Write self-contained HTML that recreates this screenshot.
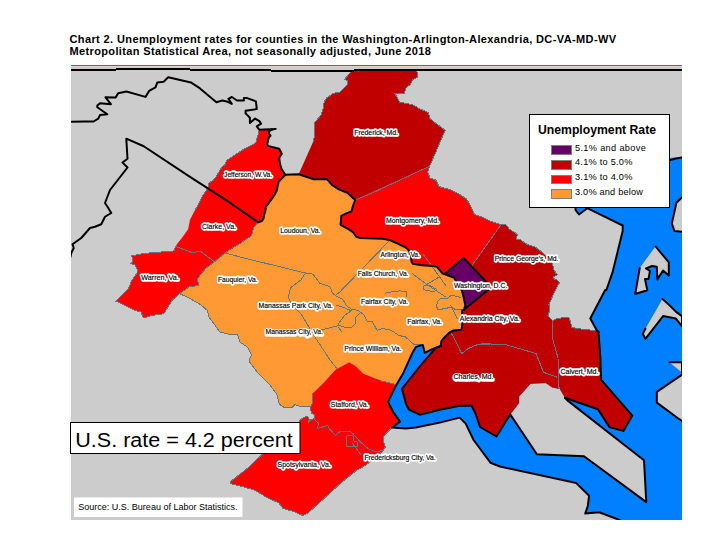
<!DOCTYPE html>
<html><head><meta charset="utf-8">
<style>
html,body{margin:0;padding:0;background:#fff;width:715px;height:552px;overflow:hidden;}
body{position:relative;font-family:"Liberation Sans",sans-serif;}
.t{position:absolute;left:69.5px;font-weight:bold;font-size:11px;letter-spacing:0.385px;white-space:nowrap;color:#000;line-height:12px;}
svg{position:absolute;left:0;top:0;}
.lb{font-family:"Liberation Sans",sans-serif;font-size:7px;fill:#fff;stroke:#fff;stroke-width:3.3px;stroke-linejoin:round;transform:translate(0.2px,0.15px);}
.lf{font-family:"Liberation Sans",sans-serif;font-size:7px;fill:#000;stroke:#000;stroke-width:0.15px;}
.bl{fill:none;stroke:#000;stroke-width:2;stroke-linejoin:round;stroke-linecap:round;}
.th{fill:none;stroke:#5e7886;stroke-width:1;stroke-linejoin:round;shape-rendering:crispEdges;}
</style></head>
<body>
<div class="t" style="top:33px">Chart 2. Unemployment rates for counties in the Washington-Arlington-Alexandria, DC-VA-MD-WV</div>
<div class="t" style="top:45px;letter-spacing:0.36px">Metropolitan Statistical Area, not seasonally adjusted, June 2018</div>
<svg width="715" height="552" viewBox="0 0 715 552">
<defs><clipPath id="mc"><rect x="71" y="66" width="611" height="454"/></clipPath></defs>
<rect x="71" y="65" width="611" height="1" fill="#0a7cff"/>
<rect x="71" y="66" width="611" height="1" fill="#dcd4cc"/>
<rect x="71" y="67" width="611" height="453" fill="#cccccc"/>
<g clip-path="url(#mc)">
<polygon points="575.5,207 669,207 669,158 682,157 682,520 619.6,520 599.2,512.3 585.2,513.6 587.8,506 589.1,495.8 576.3,483.1 500,466.5 490.6,462.8 473.6,440 465.7,423.6 459.7,417.6 439.8,422.6 415.9,427.6 405.9,428.6 392,427.6 399.9,421.6 393,411.7 388,401.7 395.9,385.8 402.9,373.8 412.9,351.9 415.9,346.9 440,335 470,330 552.6,320.8 554.5,319.4 558.1,318.5 565.3,317.1 568.9,317.6 570.8,322.6 571.7,327.1 575.3,328 580,328.9 597,330.8 590.3,318.5 605.2,290 606.4,290 612.7,271.8 622.7,231 622.7,225.5 587.3,208.2 579,214.5 575.5,210 575.5,207" fill="#0080ff"/>
<polygon points="682,197.3 676.4,202.7 673.6,215.5 671.8,223.6 674.5,231 682,231.8" fill="#cccccc"/>
<polygon points="655.5,246.4 668.8,262.3 668.8,275.6 663.1,270.5 657.4,279.4 656.8,266.7 652,266 646,268.5 650,271 648.5,279 645,279 647.3,290.2 635.2,294 639.7,268" fill="#cccccc"/>
<polygon points="662.5,299 668.2,304 675.8,311.6 682,316.1 682,326.2 675.8,318.6 669.5,317.3 663.1,316.1 645.4,338.9 642.8,333.8 645.4,328.7" fill="#cccccc"/>
<polygon points="669.5,362.2 682,362.2 682,372.5" fill="#cccccc"/>
<polygon points="682,374.7 656.8,391.8 656.8,402.6 678.3,418.5 682,421" fill="#cccccc"/>
<polygon points="510.2,414.4 536.9,454.3 584,456.3 646.3,502.1 644,460.2 567.4,400.4 564.9,397.8 559.8,388.9 552.2,387.6 545.8,383 530.5,383.8 519.1,396.5 519.1,402.9 510.2,414.4" fill="#cccccc"/>
<polygon points="501,224.7 505.1,223.9 507.7,226.4 509,229 515.3,232.8 517.2,234.7 516.6,239.1 520.4,239.7 525.4,243.5 529.9,245.4 535.6,247.3 540,250.5 543.8,253.7 548.3,258.1 550.8,260.7 552.7,263.8 553.3,268.3 555.9,273.3 557.8,274.6 553.3,277.1 554.6,279.7 557.2,280 559.4,282.7 554.5,291.8 549,304.5 549.9,310.8 547.7,315.3 552.6,320.8 554.5,319.4 558.1,318.5 565.3,317.1 568.9,317.6 570.8,322.6 571.7,327.1 575.3,328 580,328.9 597,330.8 598.5,331.5 600.5,360 601,379.7 632.3,415.6 623.4,430.9 609.4,427.1 598,409.3 564.9,397.8 559.8,388.9 552.2,387.6 545.8,383 530.5,383.8 519.1,396.5 519.1,402.9 510.2,414.4 496.5,436.5 480,427 475.6,413.7 471.6,405.7 459.7,405.7 439.8,409.7 419.8,414.7 408.9,409.7 405.9,403.7 401.9,388.8 421.8,363.9 435.8,347.9 440.8,345.9 441.3,341.4 443.5,338.5 449.3,332.7 453.6,330.5 461.6,329.8 462.3,324 461.6,316.7 462.3,310.5 464,309.8 491.5,287.3 472,265.5" fill="#c00000"/>
<polygon points="298.7,174.3 313.1,141.8 314.1,138 314.7,122.5 321.1,114.9 323,108.6 324.2,101.6 326.8,97.8 333.1,93.4 340.1,92.1 347.7,84.5 347.7,80.7 344.5,79.4 347.7,75.6 350.9,71.8 351.5,70.5 416.8,70.5 418,76.9 413,79.4 410.4,84.5 406,87.7 404.1,93.4 394.6,93.4 397.8,98.4 399.7,102.2 413,104.8 419.3,108.6 428.2,112.4 430.1,118.7 438.3,125.1 445.3,130.4 442.6,136.2 434.5,155.2 429.5,166.3 355.2,200.1 347.3,192.7 338.9,189.4 332.2,185.2 327.2,179.3 313.8,179.3 298.7,174.3" fill="#c00000"/>
<polygon points="355.2,200.1 429.5,166.3 427.7,171.9 429.9,178 436.3,180.3 438.9,186.6 449,189.2 459.2,194.2 466.8,199.3 471.8,208.2 474.4,214.5 482,217 489.6,220.9 501,224.7 472,265.5 463.6,258 444.5,274 442.6,273.6 440,270.4 437,266.8 433.1,266 421.7,265.3 413,263.8 411.6,262 411,255.8 409.1,250.8 405.9,247.6 398.3,243.8 389.4,240 383.1,238.7 360.3,238.1 356.5,236.8 352.7,231.8 347.6,228.6 340.6,224.8 341.3,215.9 346.3,213.4 351.4,211.5 353.3,205.1 355.2,200.1" fill="#ff0000"/>
<polygon points="259.4,129.8 275.7,128.9 269.7,130.6 268.8,133.2 270.6,135.8 268.8,137.5 267.1,144.4 268.8,146.1 279.2,148.7 281.8,153.8 279.2,158.1 280,164.2 281.8,169.3 285.2,174.8 278.5,181.8 276.8,190.2 274.4,195 272.6,197.7 269.9,201.3 268,204.1 265.8,206.8 265.3,211.3 264,214.9 263.5,218.5 262.2,220.8 258.3,222.3 254.5,226.3 253.1,229.4 252.2,234 250.4,236.7 245.9,239.4 240.9,243 235,246.5 229.1,250.1 225,253 214.5,261.8 205.6,268.5 200.6,274.4 197.2,279.4 198.9,285.3 188.9,287 179.6,293.7 172.1,300.4 163.7,313.8 151.9,315.5 143.6,318 141,312.1 135.2,310.5 123.4,304.6 115.9,301.2 128.5,288.7 131.8,280.3 136.8,273.6 137.7,270.2 135.2,265.2 131,263.5 132.7,261.8 131.8,255.9 143.6,253.4 165.4,251.7 173.8,250.9 175.9,246.4 176.5,244.7 182.6,236.9 188.2,229.1 189.9,220.1 195,210 197.6,205.9 202.7,195.8 207.8,188.2 209,183.1 212.8,180.6 216,176.8 219.2,171.7 221.7,167.3 224.9,164.7 226.8,160.3 234.4,155.2 243.3,149.5 252.1,145.1 255.9,142.5 259.4,129.8" fill="#ff0000"/>
<polygon points="285.2,174.8 298.7,174.3 313.8,179.3 327.2,179.3 332.2,185.2 338.9,189.4 347.3,192.7 355.2,200.1 353.3,205.1 351.4,211.5 346.3,213.4 341.3,215.9 340.6,224.8 347.6,228.6 352.7,231.8 356.5,236.8 360.3,238.1 383.1,238.7 389.4,240 398.3,243.8 405.9,247.6 409.1,250.8 411,255.8 411.6,262 413,263.8 421.7,265.3 433.1,266 437,266.8 440,270.4 442.6,273.6 444.5,274 454.1,277.7 456.5,281.8 461.8,290.1 463.6,297.1 465.3,305.4 464,309.8 462.3,310.5 461.6,316.7 462.3,324 461.6,329.8 453.6,330.5 449.3,332.7 443.5,338.5 441.3,341.4 440.8,345.9 432.8,348.9 424.8,352.9 422.8,344.9 415.9,346.9 412.9,351.9 402.9,373.8 395.9,385.8 394,383.8 383,381 375.5,378.5 363,373.5 355.5,366 349.25,362.25 335.5,369.75 323,383.5 313.1,393.1 312.2,395 312.2,403.9 310.3,407 299.6,406.4 295.1,404.5 292,407.4 285,408 279.3,404.2 276.8,394.1 269.2,384 256.5,371.3 248.9,361.1 251.4,354.8 247.6,347.2 240,342.1 237.5,334.5 229.9,334.5 219.7,332 214,323.9 209,317.2 207.3,310.5 200.6,304.6 188.9,297.9 179.6,293.7 188.9,287 198.9,285.3 197.2,279.4 200.6,274.4 205.6,268.5 214.5,261.8 225,253 229.1,250.1 235,246.5 240.9,243 245.9,239.4 250.4,236.7 252.2,234 253.1,229.4 254.5,226.3 258.3,222.3 262.2,220.8 263.5,218.5 264,214.9 265.3,211.3 265.8,206.8 268,204.1 269.9,201.3 272.6,197.7 274.4,195 276.8,190.2 278.5,181.8 285.2,174.8" fill="#ff9933"/>
<polygon points="313.1,393.1 323,383.5 335.5,369.75 349.25,362.25 355.5,366 363,373.5 375.5,378.5 383,381 394,383.8 395.9,385.8 388,401.7 393,411.7 399.9,421.6 392,427.6 388.5,430.8 383.8,436.2 383.1,440.8 385.4,446.9 382.3,451.5 373.1,459.2 365.4,465.4 355.9,470.8 341.9,482 322.3,500.1 308.3,512.7 302.7,515.5 293,511.3 283.1,508.5 279,503 266.4,497.3 255.2,490.3 241.2,486.2 230,483.4 230,482 249.6,466.6 258,458.2 299.3,422.2 299.6,420.3 304,417.5 306.5,416.5 308.8,417.2 309.1,420.3 308.4,422.2 310.3,420 312.9,419.1 314.2,418.4 314.2,414.6 311.6,413.4 310.7,410.2 311,406.4 312.2,403.9 312.2,395" fill="#ff0000"/>
<polygon points="463.6,258 491.5,287.3 464,309.8 465.3,305.4 463.6,297.1 461.8,290.1 456.5,281.8 454.1,277.7 444.5,274" fill="#660066"/>
<polyline class="th" points="176.3,246.7 192.2,252.6 200.6,251.4 214.5,261.8"/>
<polyline class="th" points="225,253 248,259 305.5,273 313,274.25 320,283.4 330,286.7 332.6,293.4 336,296 342.6,299.3 346.8,306 351.9,309.4 357.8,310.2 363.6,314.4 367,321.1 372,321.1 377,330.3 382.1,328.7 388.8,329.5 393.8,332 398.9,335.4 405.6,337 414,344.6 422.8,344.9"/>
<polyline class="th" points="305.5,273 300.9,280 290.7,287.6 288.2,297.7 291,303 302.1,315.5 315.5,338 320,344.6 330,360 336.75,368.5"/>
<polyline class="th" points="389.4,240.6 340,291.8 336,295.1"/>
<polyline class="th" points="355.2,200.1 367.9,195 429.5,166.3"/>
<polyline class="th" points="501,224.7 472,265.5"/>
<polyline class="th" points="423,254 431,265 445.8,285.6"/>
<polyline class="th" points="412.2,273.6 426.8,284.4 445.8,297"/>
<polyline class="th" points="426.8,284.4 439.4,276.8"/>
<polyline class="th" points="384.6,293.4 392.1,291.7 400.5,290.9 406.4,291.7 406.4,296.8"/>
<polyline class="th" points="446.8,298.6 451.7,295.3 461.5,297.5"/>
<polyline class="th" points="446.8,298.6 440.9,298 437.6,301.3 436.5,305.7 437.6,309.5 440,309.5 448.5,307.8 451.7,306.7 455,309.5 461.5,310"/>
<polyline class="th" points="450.7,305.1 457.2,318.7"/>
<polyline class="th" points="427.3,285 423.5,286.1 424,289.9 430,291 434.9,291.5 436.5,289.3 431.1,286.1 427.3,285"/>
<polyline class="th" points="451.4,333.4 455,340 461.6,353.7 468.1,348.6 478.3,344.3 490,344.3"/>
<polyline class="th" points="481,343.5 506,344.75 536,353.5 543.5,372.25 557.25,377.25"/>
<polyline class="th" points="552.6,320.8 552.2,330 553,340 558,358 558.5,386.5 559.8,388.9"/>
<polyline class="th" points="313.1,418.5 318.5,423 317.7,428.5 327.7,425.4 329.2,428.5 335.4,435.4 340,431.5 350,431.5 353.1,433.8 360.8,442.3 366.9,447.7 370.8,450 376.2,451.5 382.3,450.8"/>
<polyline class="th" points="346.6,435.8 353,436 353.8,441 357,442 357.7,446.2 346.9,446.2 346.6,435.8"/>
<polyline class="th" points="352,443 361.5,455.4"/>
<polyline class="th" points="336,305.2 345,308 351.9,311"/>
<polyline class="th" points="351,311 345,315 341,320 338,325 344,327 352,327 355,324 355,318 360,313"/>
<polyline class="th" points="320,330.3 340.1,325.3"/>
<polyline class="th" points="338,327 342,332"/>
<polyline class="th" points="380,380.8 394,383.8"/>
<polyline class="th" points="195,210 197.6,205.9 202.7,195.8 207.8,188.2 209,183.1 212.8,180.6 216,176.8 219.2,171.7 221.7,167.3 224.9,164.7 226.8,160.3 234.4,155.2 243.3,149.5 252.1,145.1 255.9,142.5 259.4,129.8"/>
<polyline class="th" points="258.3,222.3 254.5,226.3 253.1,229.4 252.2,234 250.4,236.7 245.9,239.4 240.9,243 235,246.5 229.1,250.1 225,253 214.5,261.8"/>
<polyline class="th" points="214.5,261.8 205.6,268.5 200.6,274.4 197.2,279.4 198.9,285.3 188.9,287 179.6,293.7"/>
<polyline class="th" points="179.6,293.7 172.1,300.4 163.7,313.8 151.9,315.5 143.6,318 141,312.1 135.2,310.5 123.4,304.6 115.9,301.2 128.5,288.7 131.8,280.3 136.8,273.6 137.7,270.2 135.2,265.2 131,263.5 132.7,261.8 131.8,255.9 143.6,253.4 165.4,251.7 173.8,250.9 175.9,246.4"/>
<polyline class="th" points="313.1,393.1 312.2,395 312.2,403.9 310.3,407 299.6,406.4 295.1,404.5 292,407.4 285,408 279.3,404.2 276.8,394.1 269.2,384 256.5,371.3 248.9,361.1 251.4,354.8 247.6,347.2 240,342.1 237.5,334.5 229.9,334.5 219.7,332 214,323.9 209,317.2 207.3,310.5 200.6,304.6 188.9,297.9 179.6,293.7"/>
<polyline class="th" points="392,427.6 388.5,430.8 383.8,436.2 383.1,440.8 385.4,446.9 382.3,451.5 373.1,459.2 365.4,465.4 355.9,470.8 341.9,482 322.3,500.1 308.3,512.7 302.7,515.5 293,511.3 283.1,508.5 279,503 266.4,497.3 255.2,490.3 241.2,486.2 230,483.4 230,482 249.6,466.6 258,458.2 299.3,422.2 299.6,420.3 304,417.5 306.5,416.5 308.8,417.2 309.1,420.3 308.4,422.2 310.3,420 312.9,419.1 314.2,418.4 314.2,414.6 311.6,413.4 310.7,410.2 311,406.4 312.2,403.9 312.2,395"/>
<polyline class="th" points="429.5,166.3 434.5,155.2 442.6,136.2 445.3,130.4 438.3,125.1 430.1,118.7 428.2,112.4 419.3,108.6 413,104.8 399.7,102.2 397.8,98.4 394.6,93.4 404.1,93.4 406,87.7 410.4,84.5 413,79.4 418,76.9 416.8,70.5 351.5,70.5 350.9,71.8 347.7,75.6 344.5,79.4 347.7,80.7 347.7,84.5 340.1,92.1 333.1,93.4 326.8,97.8 324.2,101.6 323,108.6 321.1,114.9 314.7,122.5 314.1,138 313.1,141.8"/>
<polyline class="th" points="429.5,166.3 427.7,171.9 429.9,178 436.3,180.3 438.9,186.6 449,189.2 459.2,194.2 466.8,199.3 471.8,208.2 474.4,214.5 482,217 489.6,220.9 501,224.7"/>
<polyline class="th" points="501,224.7 505.1,223.9 507.7,226.4 509,229 515.3,232.8 517.2,234.7 516.6,239.1 520.4,239.7 525.4,243.5 529.9,245.4 535.6,247.3 540,250.5 543.8,253.7 548.3,258.1 550.8,260.7 552.7,263.8 553.3,268.3 555.9,273.3 557.8,274.6 553.3,277.1 554.6,279.7 557.2,280 559.4,282.7 554.5,291.8 549,304.5 549.9,310.8 547.7,315.3 552.6,320.8"/>
<polyline class="th" points="597,330.8 580,328.9 575.3,328 571.7,327.1 570.8,322.6 568.9,317.6 565.3,317.1 558.1,318.5 554.5,319.4 552.6,320.8"/>
<polyline class="bl" points="70.9,121.8 84.5,121.5 93.6,121.5 98.2,118.7 100,115.1 107.3,114.2 97.3,107.3 97.3,105.5 100,103.3 110.9,104.2 105.5,97.3 115.5,97.6 118.2,93.3 126.4,91.5 145.5,96.9 149.1,90.9 155.5,87.3 157.3,82.4 163.6,81.8 168.2,77.3 190.9,82.4 200,88.4 216.4,102.2 222.4,100.5 226.7,101.4 231.8,103.9 228.4,98.8 231.8,97 237,100.5 243.9,100.5 243.9,97.9 246.5,97.9 255.9,101.4 256.8,109.1 245.6,110.8 245.6,113.4 249.9,117.7 249.9,122.9 255.1,118.6 259.4,121.1 261.1,123.7 256.8,126.3 259.4,129.8 275.7,128.9 269.7,130.6 268.8,133.2 270.6,135.8 268.8,137.5 267.1,144.4 268.8,146.1 279.2,148.7 281.8,153.8 279.2,158.1 280,164.2 281.8,169.3 285.2,174.8"/>
<polyline class="bl" points="285.2,174.8 278.5,181.8 276.8,190.2 274.4,195 272.6,197.7 269.9,201.3 268,204.1 265.8,206.8 265.3,211.3 264,214.9 263.5,218.5 262.2,220.8 258.3,222.3"/>
<polyline class="bl" points="258.3,222.3 230,202.7 190,176.8 143.75,146.25 126.3,138.7 127.5,158.75 122.5,162.5 127.5,167.5 110,190 105,203 107.5,206.75 111.25,213 105,216.75 101.25,224.25 95,226.75 90,228 81.25,238 72.5,244.25 73.75,248 71.25,253 70.5,256.75"/>
<polyline class="bl" points="285.2,174.8 298.7,174.3 313.8,179.3 327.2,179.3 332.2,185.2 338.9,189.4 347.3,192.7 355.2,200.1 353.3,205.1 351.4,211.5 346.3,213.4 341.3,215.9 340.6,224.8 347.6,228.6 352.7,231.8 356.5,236.8 360.3,238.1 383.1,238.7 389.4,240 398.3,243.8 405.9,247.6 409.1,250.8 411,255.8 411.6,262 413,263.8 421.7,265.3 433.1,266 437,266.8 440,270.4 442.6,273.6 444.5,274"/>
<polyline class="bl" points="463.6,258 491.5,287.3 464,309.8 465.3,305.4 463.6,297.1 461.8,290.1 456.5,281.8 454.1,277.7 444.5,274 463.6,258"/>
<polyline class="bl" points="464,309.8 462.3,310.5 461.6,316.7 462.3,324 461.6,329.8 453.6,330.5 449.3,332.7 443.5,338.5 441.3,341.4 440.8,345.9 432.8,348.9 424.8,352.9 422.8,344.9 415.9,346.9 412.9,351.9 402.9,373.8 395.9,385.8 388,401.7 393,411.7 399.9,421.6 392,427.6 405.9,428.6 415.9,427.6 439.8,422.6 459.7,417.6 465.7,423.6 473.6,440 490.6,462.8 500,466.5 576.3,483.1 589.1,495.8 587.8,506 585.2,513.6 599.2,512.3 619.6,520"/>
<polyline class="bl" points="440.8,345.9 435.8,347.9 421.8,363.9 401.9,388.8 405.9,403.7 408.9,409.7 419.8,414.7 439.8,409.7 459.7,405.7 471.6,405.7 475.6,413.7 480,427 496.5,436.5 510.2,414.4"/>
<polyline class="bl" points="510.2,414.4 536.9,454.3 584,456.3 646.3,502.1 644,460.2 567.4,400.4 564.9,397.8"/>
<polyline class="bl" points="564.9,397.8 598,409.3 609.4,427.1 623.4,430.9 632.3,415.6 601,379.7 600.5,360 598.5,331.5 597,330.8 590.3,318.5 605.2,290 606.4,290 612.7,271.8 622.7,231 622.7,225.5 587.3,208.2 579,214.5 575.5,210 575.5,207"/>
<polyline class="bl" points="669.5,160.3 676,158.5 682,157.4"/>
<polyline class="bl" points="682,197.3 676.4,202.7 673.6,215.5 671.8,223.6 674.5,231 682,231.8"/>
<polyline class="bl" points="655.5,246.4 668.8,262.3 668.8,275.6 663.1,270.5 657.4,279.4 656.8,266.7 652,266 646,268.5 650,271 648.5,279 645,279 647.3,290.2 635.2,294 639.7,268"/>
<polyline class="bl" points="662.5,299 668.2,304 675.8,311.6 682,316.1 682,326.2 675.8,318.6 669.5,317.3 663.1,316.1 645.4,338.9 642.8,333.8 645.4,328.7"/>
<polyline class="bl" points="669.5,362.2 682,362.2 682,372.5"/>
<polyline class="bl" points="682,374.7 656.8,391.8 656.8,402.6 678.3,418.5 682,421"/>
<rect x="71" y="69" width="45" height="2" fill="#000"/>
<rect x="116" y="68" width="74" height="2" fill="#000"/>
<rect x="190" y="69" width="81" height="2" fill="#000"/>
<rect x="271" y="70" width="83" height="2" fill="#000"/>
<rect x="354" y="69" width="328" height="2" fill="#000"/>
<text class="lb" x="354.25" y="135.2" textLength="43.75" lengthAdjust="spacingAndGlyphs">Frederick, Md.</text>
<text class="lb" x="224.1" y="177.2" textLength="48" lengthAdjust="spacingAndGlyphs">Jefferson, W.Va.</text>
<text class="lb" x="202" y="228.7" textLength="34" lengthAdjust="spacingAndGlyphs">Clarke, Va.</text>
<text class="lb" x="141.25" y="279.9" textLength="37.5" lengthAdjust="spacingAndGlyphs">Warren, Va.</text>
<text class="lb" x="218" y="281.9" textLength="39.5" lengthAdjust="spacingAndGlyphs">Fauquier, Va.</text>
<text class="lb" x="280.2" y="233.2" textLength="40.3" lengthAdjust="spacingAndGlyphs">Loudoun, Va.</text>
<text class="lb" x="386" y="222.5" textLength="53" lengthAdjust="spacingAndGlyphs">Montgomery, Md.</text>
<text class="lb" x="380.6" y="256.5" textLength="39.3" lengthAdjust="spacingAndGlyphs">Arlington, Va.</text>
<text class="lb" x="357.7" y="275.5" textLength="50.8" lengthAdjust="spacingAndGlyphs">Falls Church, Va.</text>
<text class="lb" x="454" y="288.2" textLength="53.3" lengthAdjust="spacingAndGlyphs">Washington, D.C.</text>
<text class="lb" x="494.75" y="261.2" textLength="63.75" lengthAdjust="spacingAndGlyphs">Prince George&#39;s, Md.</text>
<text class="lb" x="361.1" y="303.7" textLength="47" lengthAdjust="spacingAndGlyphs">Fairfax City, Va.</text>
<text class="lb" x="258.5" y="308.2" textLength="74.5" lengthAdjust="spacingAndGlyphs">Manassas Park City, Va.</text>
<text class="lb" x="265.5" y="334.4" textLength="57.5" lengthAdjust="spacingAndGlyphs">Manassas City, Va.</text>
<text class="lb" x="407.2" y="324.2" textLength="34.8" lengthAdjust="spacingAndGlyphs">Fairfax, Va.</text>
<text class="lb" x="459.75" y="321.2" textLength="60" lengthAdjust="spacingAndGlyphs">Alexandria City, Va.</text>
<text class="lb" x="344.3" y="350.7" textLength="57.1" lengthAdjust="spacingAndGlyphs">Prince William, Va.</text>
<text class="lb" x="453.5" y="379.4" textLength="40" lengthAdjust="spacingAndGlyphs">Charles, Md.</text>
<text class="lb" x="560.4" y="374.2" textLength="38" lengthAdjust="spacingAndGlyphs">Calvert, Md.</text>
<text class="lb" x="330.8" y="406.5" textLength="37.7" lengthAdjust="spacingAndGlyphs">Stafford, Va.</text>
<text class="lb" x="364.4" y="459.5" textLength="71.2" lengthAdjust="spacingAndGlyphs">Fredericksburg City, Va.</text>
<text class="lb" x="277.6" y="466.5" textLength="53.1" lengthAdjust="spacingAndGlyphs">Spotsylvania, Va.</text>
<text class="lf" x="354.25" y="135.2" textLength="43.75" lengthAdjust="spacingAndGlyphs">Frederick, Md.</text>
<text class="lf" x="224.1" y="177.2" textLength="48" lengthAdjust="spacingAndGlyphs">Jefferson, W.Va.</text>
<text class="lf" x="202" y="228.7" textLength="34" lengthAdjust="spacingAndGlyphs">Clarke, Va.</text>
<text class="lf" x="141.25" y="279.9" textLength="37.5" lengthAdjust="spacingAndGlyphs">Warren, Va.</text>
<text class="lf" x="218" y="281.9" textLength="39.5" lengthAdjust="spacingAndGlyphs">Fauquier, Va.</text>
<text class="lf" x="280.2" y="233.2" textLength="40.3" lengthAdjust="spacingAndGlyphs">Loudoun, Va.</text>
<text class="lf" x="386" y="222.5" textLength="53" lengthAdjust="spacingAndGlyphs">Montgomery, Md.</text>
<text class="lf" x="380.6" y="256.5" textLength="39.3" lengthAdjust="spacingAndGlyphs">Arlington, Va.</text>
<text class="lf" x="357.7" y="275.5" textLength="50.8" lengthAdjust="spacingAndGlyphs">Falls Church, Va.</text>
<text class="lf" x="454" y="288.2" textLength="53.3" lengthAdjust="spacingAndGlyphs">Washington, D.C.</text>
<text class="lf" x="494.75" y="261.2" textLength="63.75" lengthAdjust="spacingAndGlyphs">Prince George&#39;s, Md.</text>
<text class="lf" x="361.1" y="303.7" textLength="47" lengthAdjust="spacingAndGlyphs">Fairfax City, Va.</text>
<text class="lf" x="258.5" y="308.2" textLength="74.5" lengthAdjust="spacingAndGlyphs">Manassas Park City, Va.</text>
<text class="lf" x="265.5" y="334.4" textLength="57.5" lengthAdjust="spacingAndGlyphs">Manassas City, Va.</text>
<text class="lf" x="407.2" y="324.2" textLength="34.8" lengthAdjust="spacingAndGlyphs">Fairfax, Va.</text>
<text class="lf" x="459.75" y="321.2" textLength="60" lengthAdjust="spacingAndGlyphs">Alexandria City, Va.</text>
<text class="lf" x="344.3" y="350.7" textLength="57.1" lengthAdjust="spacingAndGlyphs">Prince William, Va.</text>
<text class="lf" x="453.5" y="379.4" textLength="40" lengthAdjust="spacingAndGlyphs">Charles, Md.</text>
<text class="lf" x="560.4" y="374.2" textLength="38" lengthAdjust="spacingAndGlyphs">Calvert, Md.</text>
<text class="lf" x="330.8" y="406.5" textLength="37.7" lengthAdjust="spacingAndGlyphs">Stafford, Va.</text>
<text class="lf" x="364.4" y="459.5" textLength="71.2" lengthAdjust="spacingAndGlyphs">Fredericksburg City, Va.</text>
<text class="lf" x="277.6" y="466.5" textLength="53.1" lengthAdjust="spacingAndGlyphs">Spotsylvania, Va.</text>
</g>
<rect x="529.5" y="114.5" width="140" height="93" fill="#fff" stroke="#000" stroke-width="1"/>
<text x="538" y="133.5" font-family="Liberation Sans" font-weight="bold" font-size="12" textLength="118" lengthAdjust="spacingAndGlyphs">Unemployment Rate</text>
<rect x="551.5" y="145.5" width="20" height="9" fill="#660066" stroke="#808080"/>
<rect x="551.5" y="160.5" width="20" height="9" fill="#c00000" stroke="#808080"/>
<rect x="551.5" y="175.5" width="20" height="8" fill="#ff0000" stroke="#808080"/>
<rect x="551.5" y="189.5" width="20" height="9" fill="#ff9933" stroke="#808080"/>
<g font-family="Liberation Sans" font-size="9.2">
<text x="575" y="151" textLength="70.8" lengthAdjust="spacing">5.1% and above</text>
<text x="575" y="165.4" textLength="57.4" lengthAdjust="spacing">4.1% to 5.0%</text>
<text x="575" y="179.8" textLength="57.4" lengthAdjust="spacing">3.1% to 4.0%</text>
<text x="575" y="194.6" textLength="68" lengthAdjust="spacing">3.0% and below</text>
</g>
<rect x="70.5" y="422.5" width="229.5" height="31" fill="#fff" stroke="#000" stroke-width="1"/>
<text x="75.3" y="446.5" font-family="Liberation Sans" font-size="20" textLength="217.4" lengthAdjust="spacingAndGlyphs">U.S. rate = 4.2 percent</text>
<rect x="74" y="497.5" width="168.5" height="19.5" fill="#fff"/>
<text x="78.3" y="510.1" font-family="Liberation Sans" font-size="9.5" textLength="159.2" lengthAdjust="spacingAndGlyphs">Source: U.S. Bureau of Labor Statistics.</text>

</svg>
</body></html>
